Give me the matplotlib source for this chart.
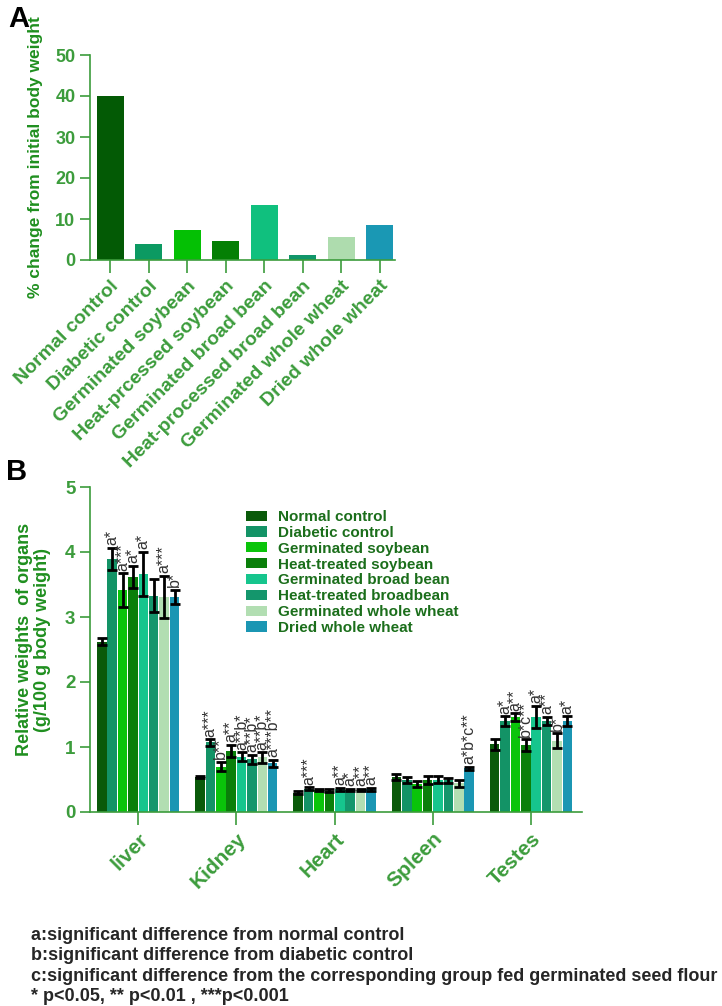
import numpy as np
import matplotlib
matplotlib.use("Agg")
import matplotlib.pyplot as plt
from matplotlib.patches import Patch

plt.rcParams['font.family'] = ['Liberation Sans', 'DejaVu Sans']

GREEN = '#1f8f1f'
SPINE = '#3c9c3c'

# Panel A data
groups_a = ['Normal control', 'Diabetic control', 'Germinated soybean', 'Heat-prcessed soybean',
            'Germinated broad bean', 'Heat-processed broad bean', 'Germinated whole wheat',
            'Dried whole wheat']
change_a = [40.0, 3.9, 7.2, 4.6, 13.4, 1.3, 5.7, 8.6]
colors_a = ['#035a05', '#0c9a62', '#04c004', '#047f04', '#10c07e', '#11966a', '#aedcae', '#1a98b4']

# Panel B data
organs = ['liver', 'Kidney', 'Heart', 'Spleen', 'Testes']
groups_b = ['Normal control', 'Diabetic control', 'Germinated soybean', 'Heat-treated soybean',
            'Germinated broad bean', 'Heat-treated broadbean', 'Germinated whole wheat',
            'Dried whole wheat']
colors_b = ['#0a5a0a', '#139366', '#0ac40a', '#0a7f0a', '#16c58d', '#14966c', '#b2deb2', '#1b96b3']

# values[organ][group]
weights = [
    [2.62, 3.89, 3.41, 3.62, 3.66, 3.33, 3.31, 3.31],
    [0.54, 1.07, 0.70, 0.94, 0.85, 0.81, 0.84, 0.75],
    [0.30, 0.36, 0.34, 0.33, 0.35, 0.34, 0.34, 0.35],
    [0.54, 0.49, 0.43, 0.49, 0.50, 0.49, 0.44, 0.67],
    [1.04, 1.40, 1.46, 1.03, 1.46, 1.40, 1.10, 1.40],
]
errors = [
    [0.05, 0.17, 0.26, 0.17, 0.34, 0.26, 0.32, 0.11],
    [0.02, 0.05, 0.07, 0.09, 0.07, 0.07, 0.08, 0.05],
    [0.02, 0.02, 0.02, 0.02, 0.02, 0.02, 0.02, 0.02],
    [0.04, 0.05, 0.04, 0.06, 0.06, 0.04, 0.05, 0.03],
    [0.08, 0.07, 0.06, 0.09, 0.17, 0.06, 0.11, 0.07],
]
signif = [
    ['', 'a*', 'a***', 'a*', 'a*', '', 'a***', 'b*'],
    ['', 'a***', 'b**', 'a**', 'a**b*', 'a**b*', 'a**b*', 'a***b**'],
    ['', 'a***', '', '', 'a**', 'a*', 'a**', 'a**'],
    ['', '', '', '', '', '', '', 'a*b*c**'],
    ['', 'a*', 'a**', 'b*c**', 'a*', 'a**', 'b*', 'a*'],
]

footnotes = ['a:significant difference from normal control',
             'b:significant difference from diabetic control',
             'c:significant difference from the corresponding group fed germinated seed flour',
             '* p<0.05, ** p<0.01 , ***p<0.001']


def style_axes(ax):
    for side in ['top', 'right']:
        ax.spines[side].set_visible(False)
    for side in ['left', 'bottom']:
        ax.spines[side].set_color(SPINE)
        ax.spines[side].set_linewidth(1.2)
    ax.tick_params(colors=SPINE, width=1.2, length=7)


fig = plt.figure(figsize=(7.22, 10.06), dpi=100)

# ---- Panel A ----
axA = fig.add_axes([90 / 722, 1 - 260 / 1006, 305 / 722, 205 / 1006])
xa = np.arange(len(groups_a))
axA.bar(xa, change_a, width=0.7, color=colors_a)
axA.set_xlim(-0.52, 7.4)
axA.set_ylim(0, 50)
axA.set_yticks([0, 10, 20, 30, 40, 50])
axA.set_xticks(xa)
axA.set_xticklabels(groups_a, rotation=45, ha='right', rotation_mode='anchor',
                    fontsize=14, fontweight='bold', color=GREEN)
for lab in axA.get_yticklabels():
    lab.set_fontsize(13)
    lab.set_fontweight('bold')
    lab.set_color(GREEN)
style_axes(axA)
axA.tick_params(axis='x', length=9)
axA.set_ylabel('% change from initial body weight', fontsize=12.5, fontweight='bold',
               color=GREEN, labelpad=9)
fig.text(8 / 722, 1 - 5 / 1006, 'A', fontsize=21, fontweight='bold', va='top')

# ---- Panel B ----
axB = fig.add_axes([90 / 722, 1 - 812 / 1006, 492 / 722, 325 / 1006])
n = len(groups_b)
slot = 0.847 / n
xo = np.arange(len(organs))
for g in range(n):
    xs = xo - 0.847 / 2 + slot * (g + 0.5)
    vals = [weights[o][g] for o in range(len(organs))]
    errs = [errors[o][g] for o in range(len(organs))]
    axB.bar(xs, vals, width=slot * 0.92, color=colors_b[g], label=groups_b[g], zorder=2)
    axB.errorbar(xs, vals, yerr=errs, fmt='none', ecolor='black', elinewidth=2,
                 capsize=3.5, capthick=2, zorder=3)
    for o in range(len(organs)):
        if signif[o][g]:
            axB.text(xs[o], vals[o] + errs[o] + 0.04, signif[o][g], rotation=90,
                     ha='center', va='bottom', fontsize=11.5, color='#333333', zorder=4)

axB.set_xlim(-0.49, 4.52)
axB.set_ylim(0, 5)
axB.set_yticks([0, 1, 2, 3, 4, 5])
axB.set_xticks(xo)
axB.set_xticklabels(organs, rotation=45, ha='right', rotation_mode='anchor',
                    fontsize=15, fontweight='bold', color=GREEN)
for lab in axB.get_yticklabels():
    lab.set_fontsize(13.5)
    lab.set_fontweight('bold')
    lab.set_color(GREEN)
style_axes(axB)
axB.tick_params(axis='x', length=9)
axB.set_ylabel('Relative weights  of organs\n(g/100 g body weight)', fontsize=13,
               fontweight='bold', color=GREEN, linespacing=1.05)
axB.yaxis.set_label_coords(-0.08, 0.53)

handles = [Patch(facecolor=c) for c in colors_b]
axB.legend(handles, groups_b, loc='upper left', bbox_to_anchor=(246 / 722, 1 - 510 / 1006),
           bbox_transform=fig.transFigure, frameon=False, borderpad=0, borderaxespad=0,
           handlelength=1.4, handleheight=0.65, handletextpad=0.7, labelspacing=0.12,
           prop={'size': 11, 'weight': 'bold'}, labelcolor='#1b6e1b')
fig.text(6 / 722, 1 - 458 / 1006, 'B', fontsize=21, fontweight='bold', va='top')

# ---- Footnotes ----
for i, line in enumerate(footnotes):
    fig.text(31 / 722, 1 - (940 + 20.3 * i) / 1006, line, fontsize=13, fontweight='bold',
             color='#262626', va='baseline')

fig.savefig('out.png', dpi=100)
